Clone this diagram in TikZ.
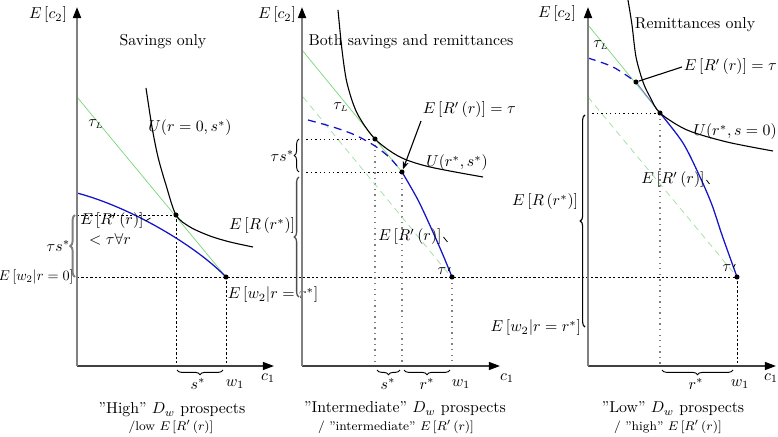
\documentclass[tikz,border=0pt]{standalone}
\usetikzlibrary{arrows.meta,decorations.pathreplacing}
\definecolor{lgreen}{RGB}{120,215,120}
\definecolor{vlgreen}{RGB}{165,225,165}
\definecolor{cblue}{RGB}{20,20,200}
\begin{document}
\begin{tikzpicture}[x=0.632pt,y=-0.632pt,
  yaxis/.style={gray, line width=1.3pt, -{Triangle[length=7pt,width=5pt,color=black]}},
  xaxis/.style={black!75, line width=0.9pt, -{Triangle[length=7pt,width=5pt,color=black]}},
  grn/.style={lgreen, line width=0.45pt},
  grndash/.style={vlgreen, line width=0.5pt, dash pattern=on 4pt off 3pt},
  blu/.style={cblue, line width=0.8pt},
  bludash/.style={cblue, line width=0.8pt, dash pattern=on 5pt off 3.5pt},
  ucurve/.style={black, line width=0.7pt},
  dsh/.style={black, line width=0.5pt, dash pattern=on 1.4pt off 1.4pt},
  blkdot/.style={black, line width=0.6pt, dash pattern=on 0.8pt off 2pt},
  grydot/.style={gray, line width=0.9pt, dash pattern=on 0.9pt off 2.6pt},
  brc/.style={decorate, decoration={brace, amplitude=3pt}, line width=0.6pt},
  pt/.style={circle, fill=black, inner sep=0pt, minimum size=3.2pt},
  lbl/.style={inner sep=1pt},
  tick/.style={black, line width=0.5pt}]
\useasboundingbox (0,0) rectangle (778,437);

%================ Panel 1 ================
\coordinate (O1) at (77,366);
\coordinate (P1) at (176,215);
\coordinate (W1) at (226,277);
\draw[dsh] (77,277) -- (737,277);
\draw[dsh] (77,215) -- (P1);
\draw[dsh] (P1) -- (176,366);
\draw[dsh] (W1) -- (226,366);
\draw[grn] (77,97) -- (W1);
\draw[blu] (77,193) .. controls (130,207) and (195,245) .. (W1);
\draw[ucurve] plot[smooth] coordinates {(146,88) (152,127) (158,157) (166,185) (176,215) (190,227) (210,236) (230,242) (253,247)};
\draw[xaxis] (O1) -- (274,366);
\draw[yaxis] (O1) -- (77,7);
\node[pt] (p1) at (P1) {};
\node[pt] (w1p) at (W1) {};
\draw[brc, gray, line width=1.2pt] (75,277) -- (75,215);
\node[lbl,anchor=east] (ts1) at (72,246) {$\tau s^*$};
\node[inner sep=0pt,anchor=east,scale=0.9] (ew1) at (74,277) {$E\,[w_2|r=0]$};
\node[lbl] (ec2a) at (48,15) {$E\left[c_2\right]$};
\node[lbl] (ti1) at (163,42) {Savings only};
\node[lbl] (tl1) at (96,124) {$\tau_{\scriptscriptstyle L}$};
\node[lbl] (u1) at (190,128) {$U(r=0,s^*)$};
\node[lbl] (er1) at (112,221) {$E\left[R'\left(r\right)\right]$};
\node[lbl] (er1b) at (110,239) {$<\tau\forall r$};
\draw[tick] (er1.east) -- ++(5,-3);
\node[lbl,anchor=west] (ewr) at (226,295) {$E\left[w_2|r=r^*\right]$};
\draw[brc] (223,370) -- (177,370);
\node[lbl] (s1) at (198,384) {$s^*$};
\node[lbl] (wa) at (235,384) {$w_1$};
\node[lbl] (c1a) at (268,378) {$c_1$};
\node[lbl] (h1) at (172,410) {''High'' $D_w$ prospects};
\node[lbl] (h1b) at (171,427) {\footnotesize/low $E\left[R'\left(r\right)\right]$};

%================ Panel 2 ================
\coordinate (O2) at (302,366);
\coordinate (T2) at (375,139);
\coordinate (Q2) at (402,172);
\coordinate (W2) at (452,277);
\draw[blkdot] (302,139) -- (T2);
\draw[blkdot] (302,172) -- (Q2);
\draw[grydot] (T2) -- (375,366);
\draw[grydot] (Q2) -- (402,366);
\draw[grydot] (W2) -- (452,366);
\draw[grn] (302,50) -- (Q2);
\draw[grndash] (303,97) -- (448,273);
\draw[bludash] plot[smooth] coordinates {(308,120) (333,127) (355,135) (375,146) (390,158) (402,172)};
\draw[blu] plot[smooth] coordinates {(402,172) (418,200) (432,230) (443,255) (452,277)};
\draw[ucurve] plot[smooth] coordinates {(338,10) (342,50) (347,83) (357,113) (375,139) (400,157) (430,167) (483,177)};
\draw[xaxis] (O2) -- (500,366);
\draw[yaxis] (O2) -- (302,7);
\node[pt] (t2) at (T2) {};
\node[pt] (q2) at (Q2) {};
\node[pt] (w2p) at (W2) {};
\node[lbl] (ec2b) at (277,15) {$E\left[c_2\right]$};
\node[lbl] (ti2) at (411,42) {Both savings and remittances};
\node[lbl] (tl2) at (341,107) {$\tau_{\scriptscriptstyle L}$};
\node[lbl,anchor=west] (eq2) at (421,110) {$E\left[R'\left(r\right)\right]=\tau$};
\draw[black, line width=0.7pt, -{Stealth[length=5pt]}] (421,121) -- (q2);
\node[lbl] (u2) at (457,163) {$U(r^*,s^*)$};
\draw[brc] (299,172) -- (299,139);
\node[lbl,anchor=east] (ts2) at (296,156) {$\tau s^*$};
\draw[brc, black!70, line width=0.8pt] (299,297) -- (299,177);
\node[lbl,anchor=east] (err2) at (297,226) {$E\left[R\left(r^*\right)\right]$};
\node[lbl] (er2) at (410,237) {$E\left[R'\left(r\right)\right]$};
\draw[tick] (er2.east) -- ++(4,5);
\node[lbl] (tau2) at (442,271) {$\tau$};
\draw[tick] (tau2.east) -- ++(2,-4);
\draw[brc] (400,370) -- (377,370);
\draw[brc] (450,370) -- (404,370);
\node[lbl] (s2) at (388,384) {$s^*$};
\node[lbl] (r2) at (427,384) {$r^*$};
\node[lbl] (wb) at (461,384) {$w_1$};
\node[lbl] (c1b) at (507,378) {$c_1$};
\node[lbl] (h2) at (405,409) {''Intermediate'' $D_w$ prospects};
\node[lbl] (h2b) at (396,427) {\footnotesize/ ''intermediate'' $E\left[R'\left(r\right)\right]$};

%================ Panel 3 ================
\coordinate (O3) at (588,366);
\coordinate (A3) at (636,82);
\coordinate (T3) at (660,113);
\coordinate (W3) at (737,277);
\draw[blkdot] (588,113) -- (T3);
\draw[grydot] (T3) -- (660,366);
\draw[dsh] (W3) -- (737,366);
\draw[grn] (588,25) -- (T3);
\draw[grndash] (588,97) -- (733,272);
\draw[bludash] plot[smooth] coordinates {(588,58) (613,67) (636,82)};
\draw[cblue!60, line width=0.5pt] (A3) -- (T3);
\draw[blu] plot[smooth] coordinates {(660,113) (683,143) (700,177) (712,205) (722,235) (737,277)};
\draw[ucurve] plot[smooth] coordinates {(628,0) (632,25) (636,57) (643,82) (650,97) (660,113) (687,130) (727,142) (773,151)};
\draw[xaxis] (O3) -- (776,366);
\draw[yaxis] (O3) -- (588,7);
\node[pt] (a3) at (A3) {};
\node[pt] (t3) at (T3) {};
\node[pt] (w3p) at (W3) {};
\node[lbl] (ec2c) at (557,14) {$E\left[c_2\right]$};
\node[lbl] (ti3) at (695,25) {Remittances only};
\node[lbl] (tl3) at (601,45) {$\tau_{\scriptscriptstyle L}$};
\node[lbl,anchor=west] (eq3) at (682,67) {$E\left[R'\left(r\right)\right]=\tau$};
\draw[black, line width=0.7pt] (a3) -- (eq3.west);
\node[inner sep=0pt,anchor=east] (u3) at (777,132) {$U(r^*,s=0)$};
\draw[brc, line width=0.7pt] (585,327) -- (585,115);
\node[lbl,anchor=east] (err3) at (580,202) {$E\left[R\left(r^*\right)\right]$};
\node[lbl,anchor=east] (ewr3) at (583,328) {$E\left[w_2|r=r^*\right]$};
\node[lbl] (er3) at (673,180) {$E\left[R'\left(r\right)\right]$};
\draw[tick] (er3.east) -- ++(3,4);
\node[lbl] (tau3) at (727,268) {$\tau$};
\draw[tick] (tau3.east) -- ++(2,-4);
\draw[brc] (733,370) -- (662,370);
\node[lbl] (r3) at (696,384) {$r^*$};
\node[lbl] (wc) at (740,384) {$w_1$};
\node[lbl] (c1c) at (771,378) {$c_1$};
\node[lbl] (h3) at (673,409) {''Low'' $D_w$ prospects};
\node[lbl] (h3b) at (668,427) {\footnotesize/ ''high'' $E\left[R'\left(r\right)\right]$};
\end{tikzpicture}
\end{document}
